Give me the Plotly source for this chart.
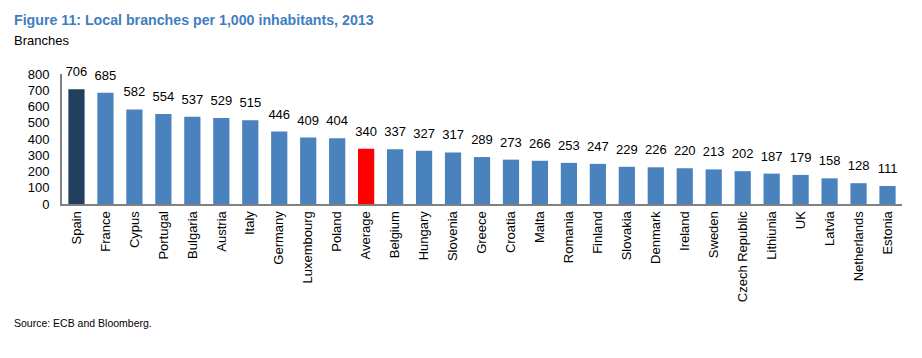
import plotly.graph_objects as go

countries = ["Spain", "France", "Cypus", "Portugal", "Bulgaria", "Austria", "Italy", "Germany",
             "Luxembourg", "Poland", "Average", "Belgium", "Hungary", "Slovenia", "Greece", "Croatia",
             "Malta", "Romania", "Finland", "Slovakia", "Denmark", "Ireland", "Sweden",
             "Czech Republic", "Lithiunia", "UK", "Latvia", "Netherlands", "Estonia"]
values = [706, 685, 582, 554, 537, 529, 515, 446, 409, 404, 340, 337, 327, 317, 289, 273,
          266, 253, 247, 229, 226, 220, 213, 202, 187, 179, 158, 128, 111]
y_ticks = [0, 100, 200, 300, 400, 500, 600, 700, 800]

colors = []
for c in countries:
    if c == "Spain":
        colors.append("#233F5E")
    elif c == "Average":
        colors.append("#FF0000")
    else:
        colors.append("#4A82BE")

FONT = "Liberation Sans, Arial"

fig = go.Figure()
fig.add_trace(go.Bar(
    x=countries, y=values, marker_color=colors, marker_line_width=0,
    width=0.56, hoverinfo="x+y",
))
fig.add_trace(go.Scatter(
    x=countries, y=values, mode="markers+text", text=[str(v) for v in values],
    marker=dict(size=14, opacity=0),
    textposition="top center", textfont=dict(family=FONT, size=13, color="#000000"),
    cliponaxis=False, hoverinfo="skip",
))

W, H = 922, 358
l, r, t, b = 62, 20, 74, 154

fig.update_layout(
    width=W, height=H,
    margin=dict(l=l, r=r, t=t, b=b),
    paper_bgcolor="white", plot_bgcolor="white",
    font=dict(family=FONT, color="#000000"),
    showlegend=False,
    xaxis=dict(tickangle=-90, tickfont=dict(size=13), showline=True, linecolor="#808080",
               linewidth=2, ticks="", showgrid=False, range=[-0.5, len(countries) - 0.5],
               automargin=False),
    yaxis=dict(range=[0, 800], tickvals=y_ticks, tickfont=dict(size=13), showline=True,
               linecolor="#808080", linewidth=2, showgrid=False, zeroline=False, ticks="",
               ticklabelstandoff=8, automargin=False),
)

pw, ph = W - l - r, H - t - b
def ann(text, px, py, size, color="#000000", family=FONT):
    fig.add_annotation(text=text, x=(px - l) / pw, y=1 - (py - t) / ph, xref="paper", yref="paper",
                       xanchor="left", yanchor="middle", showarrow=False,
                       font=dict(family=family, size=size, color=color))

ann("<b>Figure 11: Local branches per 1,000 inhabitants, 2013</b>", 12, 20, 14.2, "#3F7EBF")
ann("Branches", 12, 40, 13)
ann("Source: ECB and Bloomberg.", 12, 323, 10.5)

fig.write_html("out.html", config={"displayModeBar": False},
               post_script="document.body.style.margin='0px';")
